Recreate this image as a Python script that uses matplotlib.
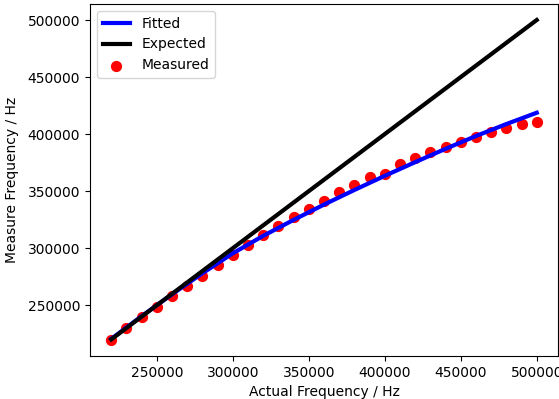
import matplotlib
matplotlib.use("Agg")
import matplotlib.pyplot as plt

# Measured data
actual_freq = [220000, 230000, 240000, 250000, 260000, 270000, 280000, 290000,
               300000, 310000, 320000, 330000, 340000, 350000, 360000, 370000,
               380000, 390000, 400000, 410000, 420000, 430000, 440000, 450000,
               460000, 470000, 480000, 490000, 500000]
measured_freq = [219500, 229600, 239700, 248500, 257900, 266900, 275700, 285100,
                 293800, 302500, 311300, 319500, 327500, 334200, 341500, 348900,
                 355700, 362500, 365300, 373700, 378700, 384200, 388600, 393000,
                 397600, 401800, 405300, 408500, 410300]

# Fitted curve
fit_x = [220000, 240000, 260000, 280000, 300000, 320000, 340000, 360000,
         380000, 400000, 420000, 440000, 460000, 480000, 500000]
fit_y = [220500, 240400, 259600, 278000, 295500, 310800, 324800, 338200,
         351000, 363400, 375400, 387100, 398300, 408800, 418700]

# Expected (ideal) line
expected_x = [220000, 500000]
expected_y = [220000, 500000]

fig = plt.figure(figsize=(5.59, 3.99), dpi=100)
ax = fig.add_axes([90 / 559, (399 - 356) / 399, 468 / 559, 352 / 399])

ax.scatter(actual_freq, measured_freq, color="red", s=50, label="Measured", zorder=2)
ax.plot(fit_x, fit_y, color="blue", linewidth=3, label="Fitted", zorder=2.1)
ax.plot(expected_x, expected_y, color="black", linewidth=3, label="Expected", zorder=2.2)

ax.set_xlabel("Actual Frequency / Hz")
ax.set_ylabel("Measure Frequency / Hz", labelpad=6)
ax.set_xticks([250000, 300000, 350000, 400000, 450000, 500000])
ax.set_yticks([250000, 300000, 350000, 400000, 450000, 500000])
ax.ticklabel_format(style="plain", useOffset=False)
handles, labels = ax.get_legend_handles_labels()
order = [labels.index("Fitted"), labels.index("Expected"), labels.index("Measured")]
ax.legend([handles[i] for i in order], [labels[i] for i in order], loc="upper left")

fig.savefig("out.png", dpi=100)
